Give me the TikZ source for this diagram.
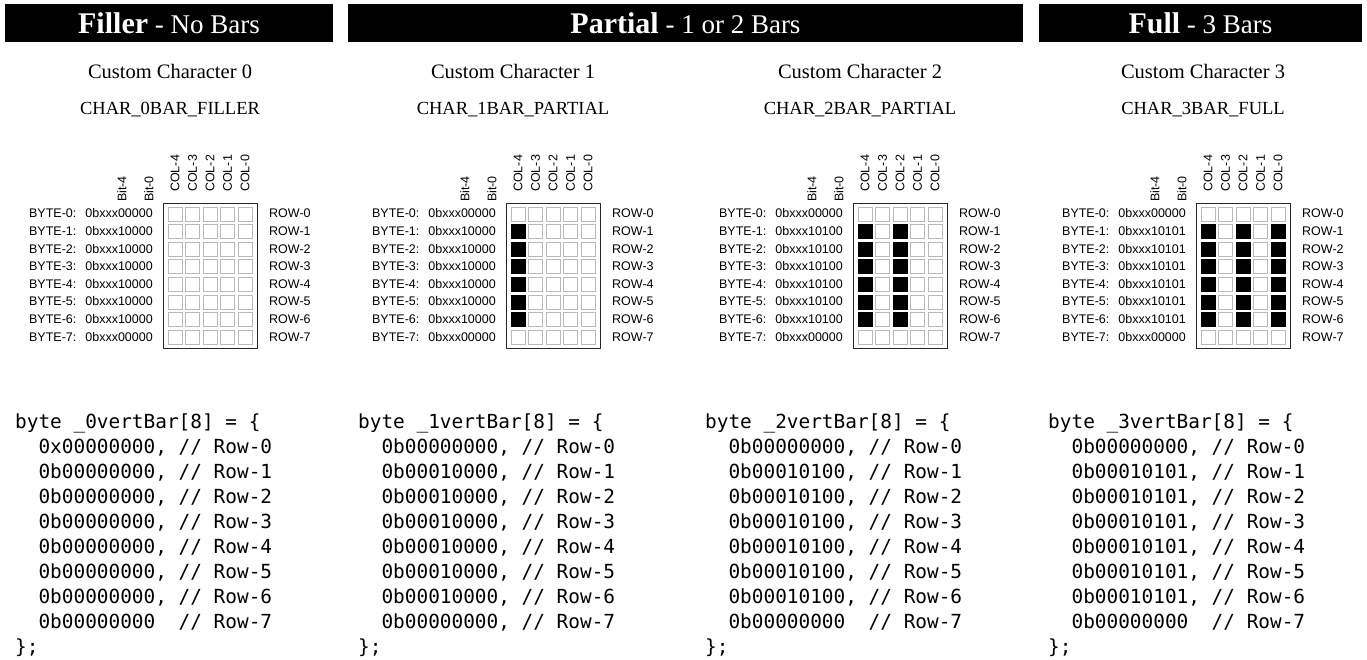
\documentclass[tikz,border=0pt]{standalone}
\usepackage{fontspec}
\setmainfont{Liberation Serif}
\setsansfont{Liberation Sans}
\setmonofont{DejaVu Sans Mono}
\tikzset{bar/.style={fill=black},head/.style={text=white,anchor=base,inner sep=0pt},title/.style={font=\fontsize{20.5}{20.5}\selectfont,anchor=base,inner sep=0pt},
cname/.style={font=\fontsize{18.5}{18.5}\selectfont,anchor=base,inner sep=0pt},
lbl/.style={font=\sffamily\fontsize{12.5}{12.5}\selectfont,inner sep=0pt},frame/.style={draw=black!85,line width=.9pt,minimum width=94pt,minimum height=145.5pt,inner sep=0pt},
cell0/.style={draw=gray!55,fill=white,line width=.7pt,minimum size=14pt,inner sep=0pt},cell1/.style={draw=black,fill=black,line width=.7pt,minimum size=14pt,inner sep=0pt},
code/.style={font=\ttfamily\fontsize{19.4}{19.4}\selectfont,anchor=base west,inner sep=0pt}}
\begin{document}
\begin{tikzpicture}[x=1pt,y=-1pt]
\useasboundingbox (0,0) rectangle (1367,659);
% header bars
\foreach \n/\a/\b/\m/\bold/\rest in {fil/5/333/169/Filler/No Bars,par/348/1023/685.5/Partial/1 or 2 Bars,ful/1039/1362/1200.5/Full/3 Bars}{\fill[bar] (\a,4) rectangle (\b,42);
\node[head] (head-\n) at (\m,33){{\bfseries\fontsize{30}{30}\selectfont\bold}\fontsize{27}{27}\selectfont\ - \rest};}
% one panel per custom character
\foreach \p/\dx/\bits/\bstr/\val/\zr/\tail/\cn in {0/0/{0,0,0,0,0}/10000/00000000/0x00000000/{\ \ }/CHAR\_0BAR\_FILLER,
1/343/{1,0,0,0,0}/10000/00010000/0b00000000/{,\ }/CHAR\_1BAR\_PARTIAL,2/690/{1,0,1,0,0}/10100/00010100/0b00000000/{\ \ }/CHAR\_2BAR\_PARTIAL,
3/1033/{1,0,1,0,1}/10101/00010101/0b00000000/{\ \ }/CHAR\_3BAR\_FULL}{
\node[title] (cc-\p) at (\dx+170,78){Custom Character \p};\node[cname] (name-\p) at (\dx+170,114.5){\cn};
\node[frame] (frame-\p) at (\dx+210,275.7){};
\node[lbl,rotate=90,anchor=west] (bit4-\p) at (\dx+122,202){Bit-4};\node[lbl,rotate=90,anchor=west] (bit0-\p) at (\dx+149,202){Bit-0};
\foreach \b [count=\kk from 0] in \bits{\pgfmathtruncatemacro\cnum{4-\kk}
\node[lbl,rotate=90,anchor=west] (col-\p-\kk) at (\dx+175+17.5*\kk,192){COL-\cnum};
\foreach \rw in {0,...,7}{\pgfmathtruncatemacro\fl{(\rw>0)*(\rw<7)*\b}\node[cell\fl] (cell-\p-\rw-\kk) at (\dx+175+17.5*\kk,214+17.6*\rw){};}}
\foreach \rw in {0,...,7}{\def\bs{\bstr}\ifnum\rw=0 \def\bs{00000}\fi\ifnum\rw=7 \def\bs{00000}\fi
\node[lbl,anchor=mid east] (byte-\p-\rw) at (\dx+153,215.5+17.6*\rw){BYTE-\rw:\hspace{9pt}0bxxx\bs};
\node[lbl,anchor=mid west] (row-\p-\rw) at (\dx+269,215.5+17.6*\rw){ROW-\rw};}
% array in code
\node[code] (code-\p-h) at (\dx+15,428){byte \_\p vertBar[8] = \{};
\node[code] (code-\p-0) at (\dx+15,453){\ \ \zr, // Row-0};
\foreach \rw in {1,...,6}{\node[code] (code-\p-\rw) at (\dx+15,453+25*\rw){\ \ 0b\val, // Row-\rw};}
\node[code] (code-\p-7) at (\dx+15,628){\ \ 0b00000000\tail// Row-7};
\node[code] (code-\p-e) at (\dx+15,653){\};};}
\end{tikzpicture}
\end{document}
